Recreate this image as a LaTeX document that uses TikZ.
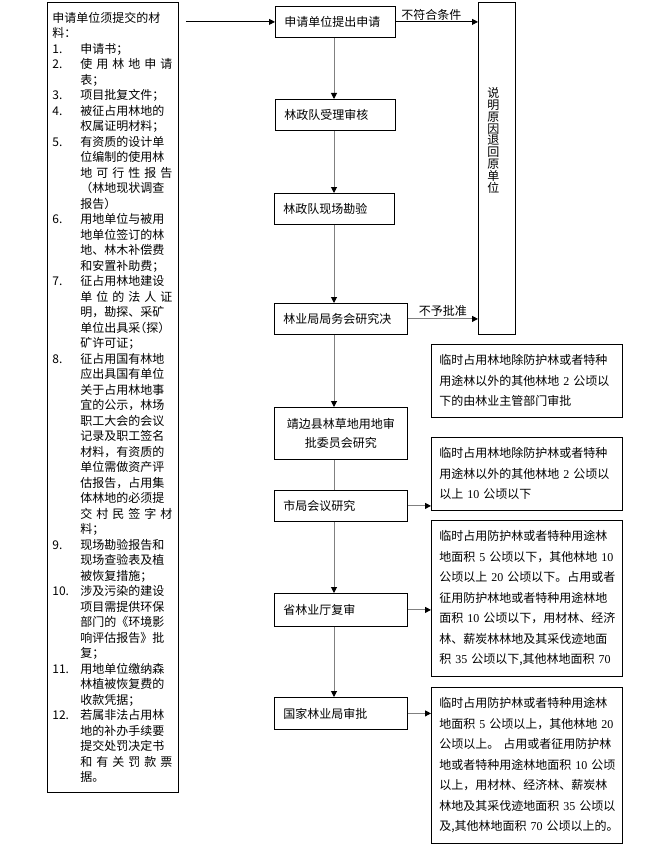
\documentclass[tikz,border=0pt]{standalone}
\usepackage{fontspec}
\setmainfont{Noto Sans CJK SC}
\newfontfamily\tnr{Liberation Serif}
\usetikzlibrary{arrows.meta}
\newcommand{\dg}[1]{{\tnr #1}}
\newcommand{\rl}[1]{\mbox{#1}}
\newcommand{\nm}[1]{\makebox[28pt][l]{#1}}
\newcommand{\ct}{\hspace*{28pt}}
\newcommand{\sprd}[1]{\makebox[84pt][s]{#1}}
\tikzset{
  box/.style={draw, line width=0.8pt, anchor=north west, inner xsep=9pt, inner ysep=0pt,
    align=left, font=\fontsize{12pt}{15pt}\selectfont},
  stepbox/.style={box, text width=#1},
  notebox/.style={box, inner xsep=8pt, text width=175pt, minimum height=#1,
    font=\fontsize{12pt}{20.5pt}\selectfont},
  matbox/.style={box, inner xsep=5pt, text width=121pt, minimum height=790pt,
    font=\fontsize{12pt}{15.5pt}\selectfont},
  flow/.style={draw=gray, line width=1pt, -{Triangle[length=6pt, width=6pt, color=black]}},
  flowline/.style={draw=gray, line width=1pt},
  blk/.style={line width=0.8pt, -{Triangle[length=6pt, width=6pt]}},
  lbl/.style={font=\fontsize{12pt}{14pt}\selectfont},
}
\begin{document}
\begin{tikzpicture}[x=1pt, y=-1pt]
  \useasboundingbox (0,0) rectangle (659,848);
  % materials
  \node[matbox] (mat) at (47,2) {
    申请单位须提交的材\\
    料：\\
    \nm{1.}申请书；\\
    \nm{2.}\sprd{使 用 林 地 申 请}\\
    \ct 表；\\
    \nm{3.}项目批复文件；\\
    \nm{4.}被征占用林地的\\
    \ct 权属证明材料；\\
    \nm{5.}有资质的设计单\\
    \ct 位编制的使用林\\
    \ct \sprd{地 可 行 性 报 告}\\
    \ct （林地现状调查\\
    \ct 报告）\\
    \nm{6.}用地单位与被用\\
    \ct 地单位签订的林\\
    \ct 地、林木补偿费\\
    \ct 和安置补助费；\\
    \nm{7.}征占用林地建设\\
    \ct \sprd{单 位 的 法 人 证}\\
    \ct 明，勘探、采矿\\
    \ct \hbox to 84pt{单位出具采\kern-6pt（探）\hss}\\
    \ct 矿许可证；\\
    \nm{8.}征占用国有林地\\
    \ct 应出具国有单位\\
    \ct 关于占用林地事\\
    \ct 宜的公示，林场\\
    \ct 职工大会的会议\\
    \ct 记录及职工签名\\
    \ct 材料，有资质的\\
    \ct 单位需做资产评\\
    \ct 估报告，占用集\\
    \ct 体林地的必须提\\
    \ct \sprd{交 村 民 签 字 材}\\
    \ct 料；\\
    \nm{9.}现场勘验报告和\\
    \ct 现场查验表及植\\
    \ct 被恢复措施；\\
    \nm{10.}涉及污染的建设\\
    \ct 项目需提供环保\\
    \ct 部门的《环境影\\
    \ct 响评估报告》批\\
    \ct 复；\\
    \nm{11.}用地单位缴纳森\\
    \ct 林植被恢复费的\\
    \ct 收款凭据；\\
    \nm{12.}若属非法占用林\\
    \ct 地的补办手续要\\
    \ct 提交处罚决定书\\
    \ct \sprd{和 有 关 罚 款 票}\\
    \ct 据。};
  % steps
  \node[stepbox=102pt, minimum height=31pt] (apply) at (275,6) {申请单位提出申请};
  \node[stepbox=102pt, minimum height=31pt] (accept) at (275,99) {林政队受理审核};
  \node[stepbox=102pt, minimum height=31pt] (survey) at (274,193) {林政队现场勘验};
  \node[stepbox=115pt, minimum height=31pt] (meet) at (274,303) {林业局局务会研究决};
  \node[stepbox=115pt, minimum height=52pt, align=center,
    font=\fontsize{12pt}{19pt}\selectfont] (county) at (274,407) {靖边县林草地用地审\\批委员会研究};
  \node[stepbox=115pt, minimum height=31pt] (city) at (274,490) {市局会议研究};
  \node[stepbox=115pt, minimum height=33pt] (prov) at (274,593) {省林业厅复审};
  \node[stepbox=115pt, minimum height=32pt] (nat) at (274,697) {国家林业局审批};
  % return box
  \node[box, minimum width=37pt, minimum height=332pt] (ret) at (478,2) {};
  \node[lbl, align=center, font=\fontsize{12pt}{11.8pt}\selectfont] (rettxt)
    at ([xshift=-3.5pt, yshift=28pt]ret.center) {说\\明\\原\\因\\退\\回\\原\\单\\位};
  % notes
  \node[notebox=73pt] (r1) at (431,344) {
    \rl{临时占用林地除防护林或者特种}\\
    \rl{用途林以外的其他林地 \dg{2} 公顷以}\\
    \rl{下的由林业主管部门审批}};
  \node[notebox=73pt] (r2) at (431,437) {
    \rl{临时占用林地除防护林或者特种}\\
    \rl{用途林以外的其他林地 \dg{2} 公顷以}\\
    \rl{以上 \dg{10} 公顷以下}};
  \node[notebox=156pt] (r3) at (431,520) {
    \rl{临时占用防护林或者特种用途林}\\
    \rl{地面积 \dg{5} 公顷以下，其他林地 \dg{10}}\\
    \rl{公顷以上 \dg{20} 公顷以下。占用或者}\\
    \rl{征用防护林地或者特种用途林地}\\
    \rl{面积 \dg{10} 公顷以下，用材林、经济}\\
    \rl{林、薪炭林林地及其采伐迹地面}\\
    \rl{积 \dg{35} 公顷以下,其他林地面积 \dg{70}}};
  \node[notebox=156pt] (r4) at (431,687) {
    \rl{临时占用防护林或者特种用途林}\\
    \rl{地面积 \dg{5} 公顷以上，其他林地 \dg{20}}\\
    \rl{公顷以上。 占用或者征用防护林}\\
    \rl{地或者特种用途林地面积 \dg{10} 公顷}\\
    \rl{以上，用材林、经济林、薪炭林}\\
    \rl{林地及其采伐迹地面积 \dg{35} 公顷以}\\
    \rl{及,其他林地面积 \dg{70} 公顷以上的。}};
  % arrows
  \coordinate (tx) at (334,0);
  \draw[blk, shorten <=7pt] (mat.east |- apply.west) -- (apply.west);
  \draw[flow] (apply.south -| tx) -- (accept.north -| tx);
  \draw[flow] (accept.south -| tx) -- (survey.north -| tx);
  \draw[flow] (survey.south -| tx) -- (meet.north -| tx);
  \draw[flow] (meet.south -| tx) -- (county.north -| tx);
  \draw[flowline] (county.south -| tx) -- (city.north -| tx);
  \draw[flow] (city.south -| tx) -- (prov.north -| tx);
  \draw[flow] (prov.south -| tx) -- (nat.north -| tx);
  \draw[blk] (apply.east) -- (apply.east -| ret.west)
    node[lbl, pos=0.05, above right, inner sep=1pt] {不符合条件};
  \draw[flow] (meet.east) -- (meet.east -| ret.west)
    node[lbl, midway, above, inner sep=2pt] {不予批准};
  \draw[flow] (city.east) -- (city.east -| r2.west);
  \draw[flow] (prov.east) -- (prov.east -| r3.west);
  \draw[flow] (nat.east) -- (nat.east -| r4.west);
\end{tikzpicture}
\end{document}
